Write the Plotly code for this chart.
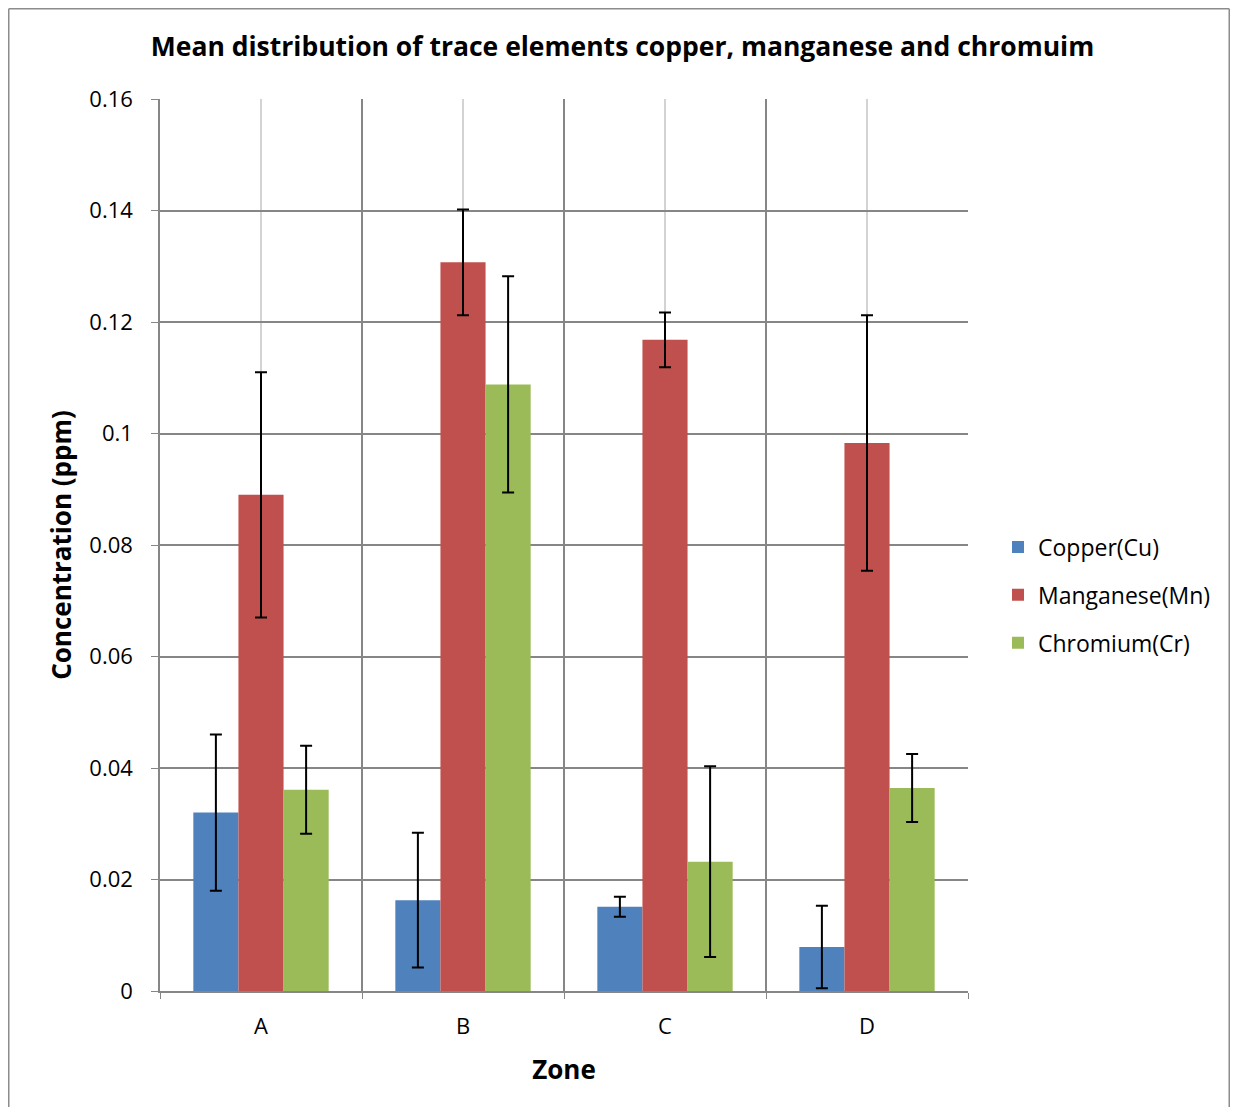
import plotly.graph_objects as go

zones = ["A", "B", "C", "D"]
series_names = ["Copper(Cu)", "Manganese(Mn)", "Chromium(Cr)"]
cu = [0.0320, 0.0163, 0.0151, 0.0079]
cu_err = [0.0140, 0.0121, 0.0018, 0.0074]
mn = [0.0890, 0.1307, 0.1168, 0.0983]
mn_err = [0.0220, 0.0095, 0.0049, 0.0229]
cr = [0.0361, 0.1088, 0.0232, 0.0364]
cr_err = [0.0079, 0.0194, 0.0171, 0.0061]
colors = ["#4F81BD", "#C0504D", "#9BBB59"]

FONT = "Open Sans"
W, H = 1222, 1099
ML, MR, MT, MB = 152, 262, 91, 116
PW, PH = W - ML - MR, H - MT - MB

fig = go.Figure()
for i, (name, vals, errs) in enumerate(zip(series_names, [cu, mn, cr], [cu_err, mn_err, cr_err])):
    fig.add_trace(go.Bar(
        x=zones, y=vals, name=name, legendgroup=name,
        marker=dict(color=colors[i], line=dict(width=0)),
        error_y=dict(type="data", array=errs, visible=True, color="black", thickness=2, width=6),
    ))

# light center gridlines
for z in zones:
    fig.add_shape(type="line", xref="x", yref="paper", x0=z, x1=z, y0=0, y1=1,
                  line=dict(color="#C4C4C4", width=1.5), layer="below")

# outer chart border (left, top, right edges)
bx0 = (0.75 - ML) / PW
bx1 = (W - 0.75 - ML) / PW
by0 = -(MB + 40) / PH
by1 = (MT + PH - 0.75) / PH
for (xa, ya, xb, yb) in [(bx0, by0, bx0, by1), (bx0, by1, bx1, by1), (bx1, by1, bx1, by0)]:
    fig.add_shape(type="line", xref="paper", yref="paper", x0=xa, y0=ya, x1=xb, y1=yb,
                  line=dict(color="#8C8C8C", width=1.5), layer="below")

fig.update_layout(
    width=W, height=H,
    margin=dict(l=ML, r=MR, t=MT, b=MB),
    paper_bgcolor="white", plot_bgcolor="white",
    barmode="group", bargap=0.33, bargroupgap=0,
    font=dict(family=FONT, color="black", size=22),
    title=dict(text="<b>Mean distribution of trace elements copper, manganese and chromuim</b>",
               x=614.5 / W, xanchor="center", y=1 - 39 / H, yanchor="middle",
               font=dict(family=FONT, size=26.5, color="black")),
    legend=dict(x=(998 - 8 - ML) / PW, xanchor="left", y=(991 - 595) / PH, yanchor="middle",
                font=dict(family=FONT, size=23, color="black"),
                tracegroupgap=15, traceorder="grouped", bgcolor="rgba(0,0,0,0)"),
    xaxis=dict(
        type="category", tickson="boundaries", ticks="outside", ticklen=6, tickcolor="#868686",
        showgrid=True, gridcolor="#868686", gridwidth=1.5,
        showline=True, linecolor="#868686", linewidth=1.5,
        tickfont=dict(family=FONT, size=22, color="black"), ticklabelstandoff=15,
        title=dict(text="<b>Zone</b>", font=dict(family=FONT, size=26, color="black"), standoff=22),
    ),
    yaxis=dict(
        range=[0, 0.16], dtick=0.02, tick0=0, ticks="outside", ticklen=7, tickcolor="#868686",
        showgrid=True, gridcolor="#868686", gridwidth=1.5,
        showline=True, linecolor="#868686", linewidth=1.5, zeroline=False,
        tickfont=dict(family=FONT, size=22, color="black"), ticklabelstandoff=14,
        title=dict(text="<b>Concentration (ppm)</b>", font=dict(family=FONT, size=26, color="black"), standoff=10),
    ),
)

fig.write_html("out.html")
